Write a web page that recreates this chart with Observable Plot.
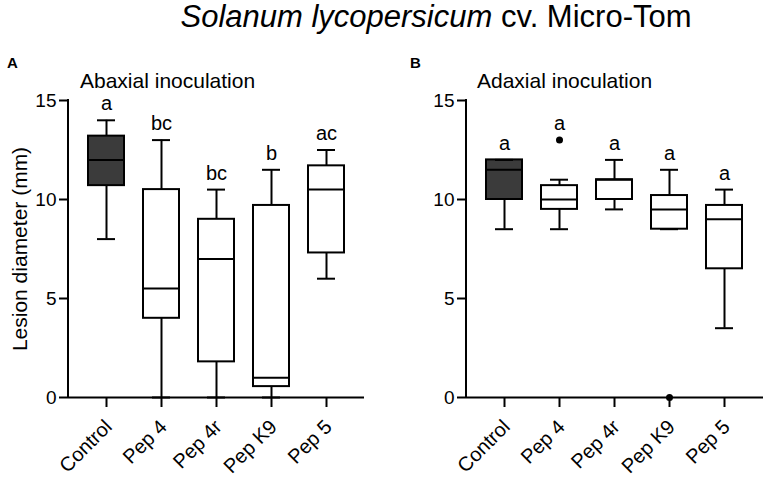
<!DOCTYPE html>
<html>
<head>
<meta charset="utf-8">
<script src="https://cdn.jsdelivr.net/npm/d3@7"></script>
<script src="https://cdn.jsdelivr.net/npm/@observablehq/plot@0.6"></script>
<style>
  html, body { margin: 0; padding: 0; background: white; }
  body { font-family: "Liberation Sans", Arial, sans-serif; color: black; }
  #wrap { position: relative; width: 767px; height: 481px; overflow: hidden; }
  .abs { position: absolute; white-space: nowrap; }
  #title { top: 0px; left: 0; width: 872px; text-align: center; font-size: 31px; line-height: 34px; }
  .panel { font-weight: bold; font-size: 15px; line-height: 15px; }
  .sub { font-size: 21px; line-height: 22px; }
  #plotA { position: absolute; left: 0; top: 88px; }
  #plotB { position: absolute; left: 398px; top: 88px; }
</style>
</head>
<body>
<div id="wrap">
  <div id="title" class="abs"><i>Solanum lycopersicum</i> cv. Micro-Tom</div>
  <div class="abs panel" style="left:7px; top:55px;">A</div>
  <div class="abs sub" style="left:80px; top:70px;">Abaxial inoculation</div>
  <div class="abs panel" style="left:410px; top:55px;">B</div>
  <div class="abs sub" style="left:477px; top:70px;">Adaxial inoculation</div>
  <div id="plotA"></div>
  <div id="plotB"></div>
</div>
<script>
const categories = ["Control", "Pep 4", "Pep 4r", "Pep K9", "Pep 5"];
const yTicks = [0, 5, 10, 15];

// Panel A: abaxial inoculation (box summaries, mm)
const abaxMin = [8, 0, 0, 0, 6];
const abaxQ1 = [10.7, 4, 1.8, 0.55, 7.3];
const abaxMedian = [12, 5.5, 7, 1, 10.5];
const abaxQ3 = [13.2, 10.5, 9, 9.7, 11.7];
const abaxMax = [14, 13, 10.5, 11.5, 12.5];
const abaxLetters = ["a", "bc", "bc", "b", "ac"];
const abaxOutlierCats = [];
const abaxOutlierVals = [];

// Panel B: adaxial inoculation
const adaxMin = [8.5, 8.5, 9.5, 8.5, 3.5];
const adaxQ1 = [10, 9.5, 10, 8.5, 6.5];
const adaxMedian = [11.5, 10, 11, 9.5, 9];
const adaxQ3 = [12, 10.7, 11, 10.2, 9.7];
const adaxMax = [12, 11, 12, 11.5, 10.5];
const adaxLetters = ["a", "a", "a", "a", "a"];
const adaxOutlierCats = ["Pep 4", "Pep K9"];
const adaxOutlierVals = [13, 0];

const FONT = "'Liberation Sans', Arial, sans-serif";

// vertical axis line along the left edge of the frame
function yAxisLine(index, scales, values, dims) {
  const line = d3.create("svg:line")
    .attr("x1", dims.marginLeft).attr("x2", dims.marginLeft)
    .attr("y1", dims.marginTop).attr("y2", dims.height - dims.marginBottom)
    .attr("stroke", "black").attr("stroke-width", 2).attr("stroke-linecap", "square");
  return line.node();
}

function makePanel(mins, q1s, meds, q3s, maxs, letters, oCats, oVals, withLabel, width, marginRight) {
  const rows = categories.map((c, i) => {
    const outs = oVals.filter((v, j) => oCats[j] === c);
    return {
      cat: c, min: mins[i], q1: q1s[i], med: meds[i], q3: q3s[i], max: maxs[i],
      letter: letters[i], top: Math.max(maxs[i], ...outs),
      fill: c === "Control" ? "#3b3b3b" : "white"
    };
  });
  const outliers = oCats.map((c, j) => ({cat: c, v: oVals[j]}));
  const marks = [
    Plot.axisY({
      ticks: yTicks, tickSize: 9, tickPadding: 3, strokeWidth: 2, fontSize: 19, label: null
    }),
    Plot.axisX({
      tickSize: 10, strokeWidth: 2, tickFormat: () => "", label: null
    }),
    Plot.axisX({
      tickSize: 0, tickRotate: -45, tickPadding: 26, dx: 2, fontSize: 20, label: null
    }),
    yAxisLine,
    Plot.ruleY([0], {strokeWidth: 2}),
    Plot.ruleX(rows, {x: "cat", y1: "q3", y2: "max", strokeWidth: 2}),
    Plot.ruleX(rows, {x: "cat", y1: "min", y2: "q1", strokeWidth: 2}),
    Plot.barY(rows, {x: "cat", y1: "q1", y2: "q3", fill: "fill", stroke: "black", strokeWidth: 2}),
    Plot.tickY(rows, {x: "cat", y: "med", stroke: "black", strokeWidth: 2}),
    Plot.tickY(rows, {x: "cat", y: "max", stroke: "black", strokeWidth: 2, insetLeft: 9, insetRight: 9}),
    Plot.tickY(rows, {x: "cat", y: "min", stroke: "black", strokeWidth: 2, insetLeft: 9, insetRight: 9}),
    Plot.dot(outliers, {x: "cat", y: "v", r: 3.5, fill: "black"}),
    Plot.text(rows, {x: "cat", y: "top", text: "letter", dy: -10, lineAnchor: "bottom", fontSize: 20})
  ];
  if (withLabel) {
    marks.unshift(Plot.axisY({
      ticks: [], tickSize: 0, fontSize: 21,
      label: "Lesion diameter (mm)", labelAnchor: "center", labelArrow: false, labelOffset: 56
    }));
  }
  return Plot.plot({
    width, height: 392,
    marginTop: 12, marginBottom: 83, marginLeft: 68, marginRight,
    style: {fontFamily: FONT, fontSize: "19px", color: "black", background: "transparent", overflow: "visible"},
    x: {domain: categories, paddingInner: 0.345, paddingOuter: 0.36},
    y: {domain: [0, 15]},
    marks
  });
}

document.getElementById("plotA").append(
  makePanel(abaxMin, abaxQ1, abaxMedian, abaxQ3, abaxMax, abaxLetters, abaxOutlierCats, abaxOutlierVals, true, 383, 19)
);
document.getElementById("plotB").append(
  makePanel(adaxMin, adaxQ1, adaxMedian, adaxQ3, adaxMax, adaxLetters, adaxOutlierCats, adaxOutlierVals, false, 369, 4)
);
</script>
</body>
</html>
